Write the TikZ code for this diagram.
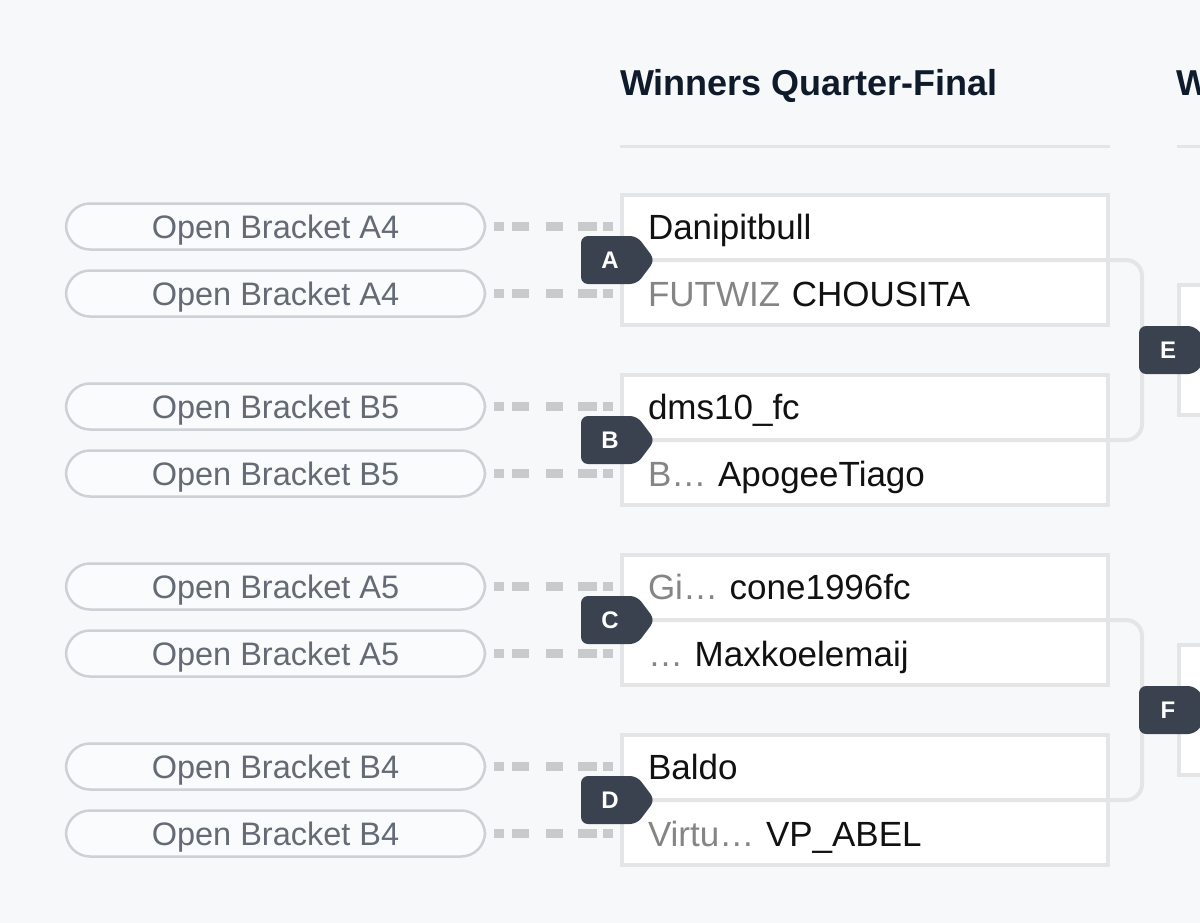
\documentclass[tikz,border=0pt]{standalone}
\usepackage{fontspec}
\setmainfont{Liberation Sans}
\usepackage{tikz}
\usetikzlibrary{positioning,calc}

\definecolor{pagebg}{HTML}{F7F8FA}
\definecolor{boxline}{HTML}{E4E5E7}
\definecolor{badgefill}{HTML}{3A4250}
\definecolor{pillline}{HTML}{CDD0D4}
\definecolor{pilltext}{HTML}{646B75}
\definecolor{seedline}{HTML}{C9CACC}
\definecolor{headtext}{HTML}{0F1A2A}
\definecolor{prefixgray}{HTML}{858585}
\definecolor{nametext}{HTML}{111111}

\tikzset{
  roundhead/.style={inner sep=0pt, text=headtext, font=\fontsize{36}{42}\selectfont\bfseries},
  headrule/.style={draw=boxline, line width=3pt},
  match/.style={draw=boxline, line width=4pt, fill=white, minimum width=486pt, minimum height=130pt, inner sep=0pt},
  row/.style={minimum width=490pt, minimum height=67pt, inner sep=0pt, outer sep=0pt, text width=434pt, align=left,
    text height=25pt, text depth=0pt, text=nametext, font=\fontsize{35}{42}\selectfont},
  pill/.style={draw=pillline, line width=2.5pt, fill=white!40!pagebg, rounded corners=24pt, minimum width=419pt,
    minimum height=46pt, inner sep=0pt, outer sep=0pt, text=pilltext, text height=23pt, text depth=0pt,
    font=\fontsize{32.5}{38}\selectfont},
  seeddots/.style={draw=seedline, line width=9pt, shorten <=9pt, shorten >=7pt,
    dash pattern=on 10pt off 8pt on 17pt off 17pt on 17pt off 15pt on 19pt off 6pt on 10pt off 60pt},
  link/.style={draw=boxline, line width=4pt, rounded corners=16pt},
  tagtext/.style={inner sep=0pt, text=white, font=\fontsize{24}{26}\selectfont\bfseries}
}
\newcommand{\tagbadge}[3]{%
  \fill[badgefill, rounded corners=7pt] ($#2+(-29,-24)$) -- ++(56,0) -- ++(18,24) -- ++(-18,24) -- ++(-56,0) -- cycle;
  \node[tagtext] (#1) at ($#2$) {#3};}

\begin{document}
\begin{tikzpicture}[x=1pt, y=-1pt]
\useasboundingbox (0,0) rectangle (1200,923);
\clip (0,0) rectangle (1200,923);
\fill[pagebg] (0,0) rectangle (1200,923);

% round headers
\node[roundhead, anchor=base west] (hQF) at (620,96) {Winners Quarter-Final};
\node[roundhead, anchor=base west] (hSF) at (1176,96) {W};
\draw[headrule] (620,147) -- (1110,147);
\draw[headrule] (1177,147) -- (1230,147);

% quarter-final matches
\node[match] (mA) at (865,260) {};
\node[match] (mB) at (865,440) {};
\node[match] (mC) at (865,620) {};
\node[match] (mD) at (865,800) {};
\node[match] (mE) at (1422,350) {};
\node[match] (mF) at (1422,710) {};

\node[row, anchor=north west] (rA1) at (mA.north west) {Danipitbull};
\node[row, below=0pt of rA1] (rA2) {{\color{prefixgray}FUTWIZ} CHOUSITA};
\node[row, anchor=north west] (rB1) at (mB.north west) {dms10\_fc};
\node[row, below=0pt of rB1] (rB2) {{\color{prefixgray}B…} ApogeeTiago};
\node[row, anchor=north west] (rC1) at (mC.north west) {{\color{prefixgray}Gi…} cone1996fc};
\node[row, below=0pt of rC1] (rC2) {{\color{prefixgray}…} Maxkoelemaij};
\node[row, anchor=north west] (rD1) at (mD.north west) {Baldo};
\node[row, below=0pt of rD1] (rD2) {{\color{prefixgray}Virtu…} VP\_ABEL};

% open bracket seeds
\node[pill, left=135pt of rA1.west, anchor=east] (pA1) {Open Bracket A4};
\node[pill, left=135pt of rA2.west, anchor=east] (pA2) {Open Bracket A4};
\node[pill, left=135pt of rB1.west, anchor=east] (pB1) {Open Bracket B5};
\node[pill, left=135pt of rB2.west, anchor=east] (pB2) {Open Bracket B5};
\node[pill, left=135pt of rC1.west, anchor=east] (pC1) {Open Bracket A5};
\node[pill, left=135pt of rC2.west, anchor=east] (pC2) {Open Bracket A5};
\node[pill, left=135pt of rD1.west, anchor=east] (pD1) {Open Bracket B4};
\node[pill, left=135pt of rD2.west, anchor=east] (pD2) {Open Bracket B4};

\draw[seeddots] (pA1) -- (rA1);
\draw[seeddots] (pA2) -- (rA2);
\draw[seeddots] (pB1) -- (rB1);
\draw[seeddots] (pB2) -- (rB2);
\draw[seeddots] (pC1) -- (rC1);
\draw[seeddots] (pC2) -- (rC2);
\draw[seeddots] (pD1) -- (rD1);
\draw[seeddots] (pD2) -- (rD2);

% brackets to the next round
\coordinate (jE) at (1142,350);
\coordinate (jF) at (1142,710);
\draw[link] (rA1.south west) -| (jE) |- (rB1.south west);
\draw[link] (rC1.south west) -| (jF) |- (rD1.south west);
\draw[link] (mE.west) -- (mE.east);
\draw[link] (mF.west) -- (mF.east);

% match tags
\tagbadge{tA}{(mA.west)+(-10,0)}{A}
\tagbadge{tB}{(mB.west)+(-10,0)}{B}
\tagbadge{tC}{(mC.west)+(-10,0)}{C}
\tagbadge{tD}{(mD.west)+(-10,0)}{D}
\tagbadge{tE}{(mE.west)+(-9,0)}{E}
\tagbadge{tF}{(mF.west)+(-9,0)}{F}
\end{tikzpicture}
\end{document}
